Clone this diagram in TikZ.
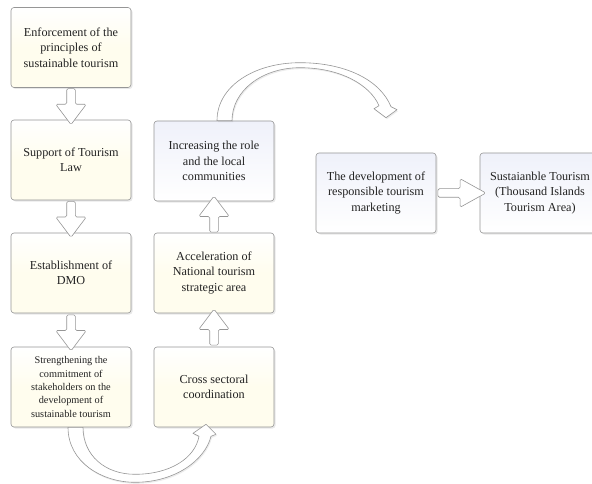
\documentclass[tikz,border=0pt]{standalone}
\usepackage{fontspec}
\setmainfont{Liberation Serif}
\usetikzlibrary{calc,shapes.arrows,shadows}
\definecolor{boxline}{RGB}{150,150,150}
\definecolor{creamfill}{RGB}{255,253,238}
\definecolor{bluefill}{RGB}{239,241,250}
\definecolor{inktext}{RGB}{35,35,35}
\tikzset{
  box/.style={draw=boxline, line width=0.6pt, rounded corners=3pt,
    minimum width=120pt, minimum height=80pt, align=center, text=inktext,
    font=\fontsize{12.2}{15.5}\selectfont,
    drop shadow={opacity=0.18, shadow xshift=1.5pt, shadow yshift=-1.5pt}},
  creambox/.style={box, top color=white, bottom color=creamfill, middle color=creamfill},
  bluebox/.style={box, top color=bluefill, bottom color=white},
  blockarrow/.style={single arrow, draw=boxline, fill=white, line width=0.6pt,
    inner sep=4pt, minimum width=30pt, single arrow head extend=11pt,
    single arrow tip angle=74, rounded corners=1.5pt},
  curvearrow/.style={draw=boxline, fill=white, line width=0.6pt, line join=round,
    drop shadow={opacity=0.15, shadow xshift=1pt, shadow yshift=-1.5pt}}
}
\begin{document}
\begin{tikzpicture}[x=1pt, y=-1pt]
  \useasboundingbox (0,0) rectangle (592,484);
  % boxes, left column
  \node[creambox] (enforce) at (71,47.5) {Enforcement of the\\principles of\\sustainable tourism};
  \node[creambox] (support) at (71,160) {Support of Tourism\\Law};
  \node[creambox] (dmo) at (71,273) {Establishment of\\DMO};
  \node[creambox, font=\fontsize{10.3}{13.3}\selectfont] (commit) at (71,387)
    {Strengthening the\\commitment of\\stakeholders on the\\development of\\sustainable tourism};
  % middle column
  \node[creambox] (cross) at (214,387) {Cross sectoral\\coordination};
  \node[creambox] (accel) at (214,273) {Acceleration of\\National tourism\\strategic area};
  \node[bluebox] (role) at (214,161) {Increasing the role\\and the local\\communities};
  % right
  \node[bluebox] (market) at (376,193) {The development of\\responsible tourism\\marketing};
  \node[bluebox] (sustain) at (540,193) {Sustaianble Tourism\\(Thousand Islands\\Tourism Area)};

  % straight block arrows
  \path (enforce.south) -- (support.north) node[midway, sloped, allow upside down, blockarrow, minimum height=36pt] (a1) {};
  \path (support.south) -- (dmo.north) node[midway, sloped, allow upside down, blockarrow, minimum height=36pt] (a2) {};
  \path (dmo.south) -- (commit.north) node[midway, sloped, allow upside down, blockarrow, minimum height=36pt] (a3) {};
  \path (cross.north) -- (accel.south) node[midway, sloped, allow upside down, blockarrow, minimum height=36pt] (a4) {};
  \path (accel.north) -- (role.south) node[midway, sloped, allow upside down, blockarrow, minimum height=36pt] (a5) {};
  \path (market.east) -- (sustain.west) node[midway, sloped, blockarrow, minimum height=48pt,
    minimum width=28pt, single arrow head extend=10pt, single arrow tip angle=58] (a6) {};

  % curved arrow under the left columns
  \draw[curvearrow]
    ($(commit.south)+(-3,0)$) .. controls +(0,35) and +(-33,0) .. ($(commit.south)+(64,55)$)
    .. controls +(40,0) and +(-6,24) .. ($(cross.south)+(-3,9)$)
    -- ($(cross.south)+(2,7)$) -- ($(cross.south)+(-8,-3)$) -- ($(cross.south)+(-21,6)$)
    -- ($(cross.south)+(-15,9)$)
    .. controls +(-4,22) and +(35,0) .. ($(commit.south)+(64,47)$)
    .. controls +(-30,0) and +(0,28) .. ($(commit.south)+(12,0)$) -- cycle;

  % curved arrow over the top
  \draw[curvearrow]
    ($(role.north)+(3,0)$) .. controls +(0,-35) and +(-45,0) .. ($(role.north)+(86,-58)$)
    .. controls +(45,0) and +(-11,-27) .. ($(market.north)+(15,-46)$)
    -- ($(market.north)+(21,-43)$) -- ($(market.north)+(10,-35)$) -- ($(market.north)+(-2,-44)$)
    -- ($(market.north)+(3,-47)$)
    .. controls +(-9,-21) and +(40,0) .. ($(role.north)+(86,-53)$)
    .. controls +(-38,0) and +(0,-30) .. ($(role.north)+(18,0)$) -- cycle;
\end{tikzpicture}
\end{document}
